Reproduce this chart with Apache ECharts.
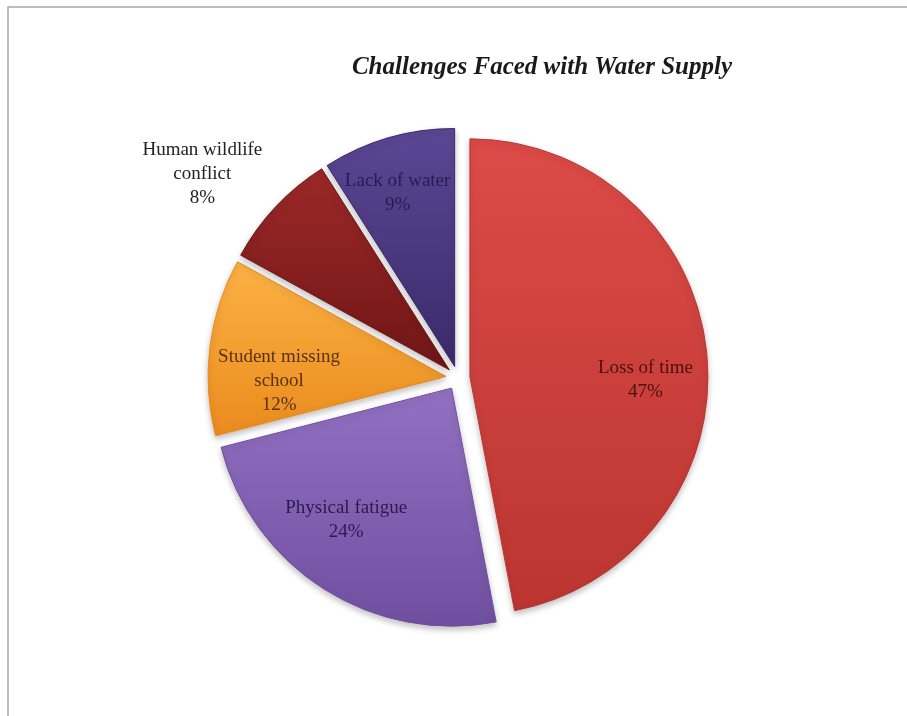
<!DOCTYPE html>
<html>
<head>
<meta charset="utf-8">
<script src="https://cdn.jsdelivr.net/npm/echarts@6/dist/echarts.min.js"></script>
<style>html,body{margin:0;padding:0;background:#fff;}#c{width:907px;height:716px;}</style>
</head>
<body>
<div id="c"></div>
<script>
var categories = ['Loss of time', 'Physical fatigue', 'Student missing\nschool', 'Human wildlife\nconflict', 'Lack of water'];
var values = [47, 24, 12, 8, 9];

var topColors = ['#dc4b47', '#9271c2', '#fcb244', '#9c2828', '#5c4794'];
var bottomColors = ['#bb3531', '#704fa0', '#ea8b1e', '#701616', '#3b2a6b'];
var textColors = ['#4a1010', '#2a1a4f', '#5a3210', '#222222', '#2a1a4f'];
var labelShift = [[54, 15], [-40, 29], [-46, 20], [-158, -112], [-23, -56]];

var chart = echarts.init(document.getElementById('c'));
var data = categories.map(function (name, i) {
  return {
    name: name,
    value: values[i],
    selected: true,
    itemStyle: {
      color: new echarts.graphic.LinearGradient(0, 0, 0, 1, [
        { offset: 0, color: topColors[i] },
        { offset: 1, color: bottomColors[i] }
      ]),
      borderColor: bottomColors[i],
      borderWidth: 1
    },
    label: { color: textColors[i] }
  };
});

chart.setOption({
  animation: false,
  title: {
    text: 'Challenges Faced with Water Supply',
    left: 537,
    top: 50,
    textAlign: 'center',
    textStyle: {
      fontFamily: 'Liberation Serif',
      fontStyle: 'italic',
      fontWeight: 'bold',
      fontSize: 25,
      color: '#1a1a1a'
    }
  },
  graphic: [{
    type: 'rect',
    shape: { x: 8, y: 7, width: 912, height: 730 },
    style: { fill: 'none', stroke: '#a8a8a8', lineWidth: 1.5 },
    z: -1
  }],
  series: [{
    type: 'pie',
    center: [458, 378],
    radius: [0, 238],
    startAngle: 90,
    clockwise: true,
    selectedMode: 'multiple',
    selectedOffset: 12,
    avoidLabelOverlap: false,
    itemStyle: {
      shadowBlur: 6,
      shadowColor: 'rgba(0,0,0,0.25)',
      shadowOffsetY: 3
    },
    label: {
      show: true,
      position: 'inside',
      formatter: function (p) { return p.name + '\n' + p.value + '%'; },
      fontFamily: 'Liberation Serif',
      fontSize: 19,
      lineHeight: 24,
      align: 'center'
    },
    labelLine: { show: false },
    labelLayout: function (p) {
      var s = labelShift[p.dataIndex];
      return { dx: s[0], dy: s[1] };
    },
    emphasis: { disabled: true },
    data: data
  }]
});
</script>
</body>
</html>
